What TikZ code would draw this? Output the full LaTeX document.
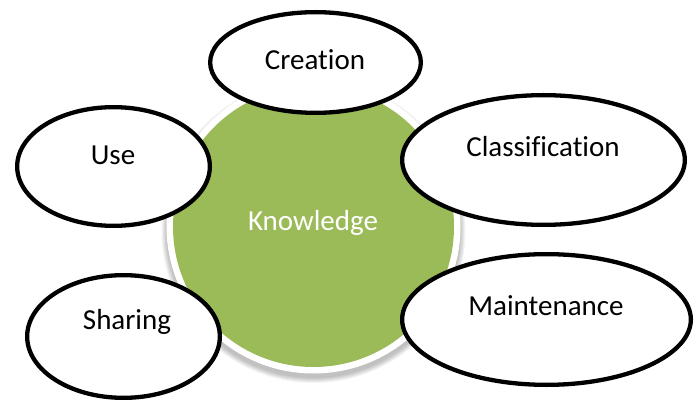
\documentclass[tikz,border=0pt]{standalone}
\usepackage{fontspec}
\setmainfont[Ligatures=NoCommon]{Carlito}
\usetikzlibrary{shapes.geometric}
\definecolor{leaf}{HTML}{9BBB59}
\tikzset{
  oval/.style={ellipse, draw=black, fill=white, line width=4.3pt, inner sep=0pt},
  word/.style={anchor=base, inner sep=0pt, font=\fontsize{29}{34}\selectfont},
}
\begin{document}
\begin{tikzpicture}[x=1pt, y=-1pt]
\useasboundingbox (0,0) rectangle (698,403);
\fill[white] (0,0) rectangle (698,403);

% soft shadow under the central disc
\foreach \r in {152,151,150,149,148,147}
  \fill[black, opacity=0.045] (313.5,231) circle (\r);
% white rim and green disc
\fill[white] (313.5,226.5) circle (147);
\node[circle, fill=leaf, minimum size=281pt, inner sep=0pt] (core) at (313.5,226.5) {};
\node[word, text=white] (knowledge) at (313,230) {Knowledge};

% surrounding stages
\node[oval, minimum width=210.7pt, minimum height=100.7pt] (creation) at (315.5,62.5) {};
\node[word] (tcreation) at (315,70) {Creation};

\node[oval, minimum width=192.7pt, minimum height=118.7pt] (use) at (113.5,166.5) {};
\node[word] (tuse) at (113,165) {Use};

\node[oval, minimum width=282.7pt, minimum height=129.7pt] (classification) at (543.5,160) {};
\node[word] (tclass) at (543,157) {Classification};

\node[oval, minimum width=192.7pt, minimum height=122.7pt] (sharing) at (123.5,336.5) {};
\node[word] (tsharing) at (127,329) {Sharing};

\node[oval, minimum width=288.7pt, minimum height=130.7pt] (maintenance) at (546.5,319.5) {};
\node[word] (tmaint) at (546,315) {Maintenance};
\end{tikzpicture}
\end{document}
